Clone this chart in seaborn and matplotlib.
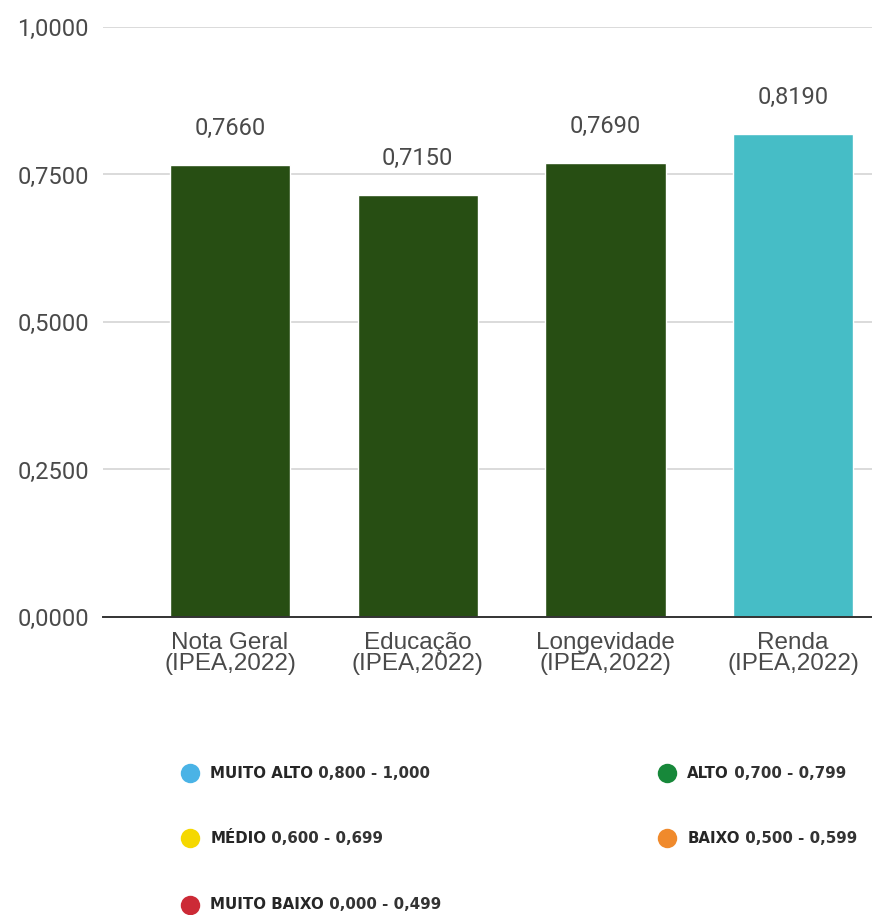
import matplotlib
matplotlib.use("Agg")
import numpy as np
import pandas as pd
import seaborn as sns
import matplotlib.pyplot as plt
from matplotlib.lines import Line2D
from matplotlib.ticker import FuncFormatter, MultipleLocator

# ------ dados ------ #
categorias = ["Nota Geral\n(IPEA,2022)", "Educação\n(IPEA,2022)",
              "Longevidade\n(IPEA,2022)", "Renda\n(IPEA,2022)"]
valores = [0.7660, 0.7150, 0.7690, 0.8190]
cores_barras = ["#274e13", "#274e13", "#274e13", "#46bdc6"]

legenda_nomes = ["MUITO ALTO", "ALTO", "MÉDIO", "BAIXO", "MUITO BAIXO"]
legenda_faixas = ["0,800 - 1,000", "0,700 - 0,799", "0,600 - 0,699",
                  "0,500 - 0,599", "0,000 - 0,499"]
legenda_cores = ["#4ab3e6", "#17883a", "#f5d800", "#f08a2c", "#cc2a36"]

def virgula(v, pos=None):
    return f"{v:.4f}".replace(".", ",")

# ------ figura ------ #
sns.set_style("white")
plt.rcParams["font.family"] = ["Roboto", "DejaVu Sans"]

fig = plt.figure(figsize=(8.72, 9.15), dpi=100)
ax = fig.add_axes([0.118, 0.3257, 0.882, 0.6448])

df = pd.DataFrame({"cat": categorias, "valor": valores})
sns.barplot(data=df, x="cat", y="valor", hue="cat", palette=cores_barras,
            legend=False, width=0.64, saturation=1, ax=ax)

ax.set_ylim(0, 1.0)
ax.set_xlim(-0.677, 3.42)
ax.yaxis.set_major_locator(MultipleLocator(0.25))
ax.yaxis.set_major_formatter(FuncFormatter(virgula))
ax.grid(axis="y", color="#d4d4d4", linewidth=1.2)
ax.set_axisbelow(True)
ax.set_xlabel("")
ax.set_ylabel("")
for s in ["top", "right", "left"]:
    ax.spines[s].set_visible(False)
ax.spines["bottom"].set_color("#333333")
ax.spines["bottom"].set_linewidth(1.4)
ax.tick_params(axis="y", length=0, pad=10, labelsize=17, labelcolor="#4a4a4a")
ax.tick_params(axis="x", length=0, pad=11, labelcolor="#4a4a4a")
for t in ax.get_xticklabels():
    t.set_fontfamily(["Liberation Sans", "DejaVu Sans"])
    t.set_fontsize(17.5)
    t.set_linespacing(0.95)

for cont in ax.containers:
    ax.bar_label(cont, labels=[virgula(v) for v in cont.datavalues],
                 padding=18, fontsize=17, color="#4a4a4a")

# ------ legenda ------ #
col_x = [0.218, 0.765]
lin_y = [0.155, 0.084, 0.011]
for i, (nome, faixa, cor) in enumerate(zip(legenda_nomes, legenda_faixas, legenda_cores)):
    x = col_x[i % 2]
    y = lin_y[i // 2]
    fig.add_artist(Line2D([x], [y], transform=fig.transFigure, marker="o",
                          markersize=14, color=cor, markeredgewidth=0))
    t = fig.text(x + 0.023, y, nome, fontsize=10.8, fontweight="bold",
                 family=["DejaVu Sans"], color="#262626", va="center")
    ax.annotate(" " + faixa, xy=(1, 0.5), xycoords=t, va="center",
                fontsize=10.8, family=["DejaVu Sans"], fontweight="semibold",
                color="#333333", annotation_clip=False)

fig.savefig("out.png", dpi=100)
